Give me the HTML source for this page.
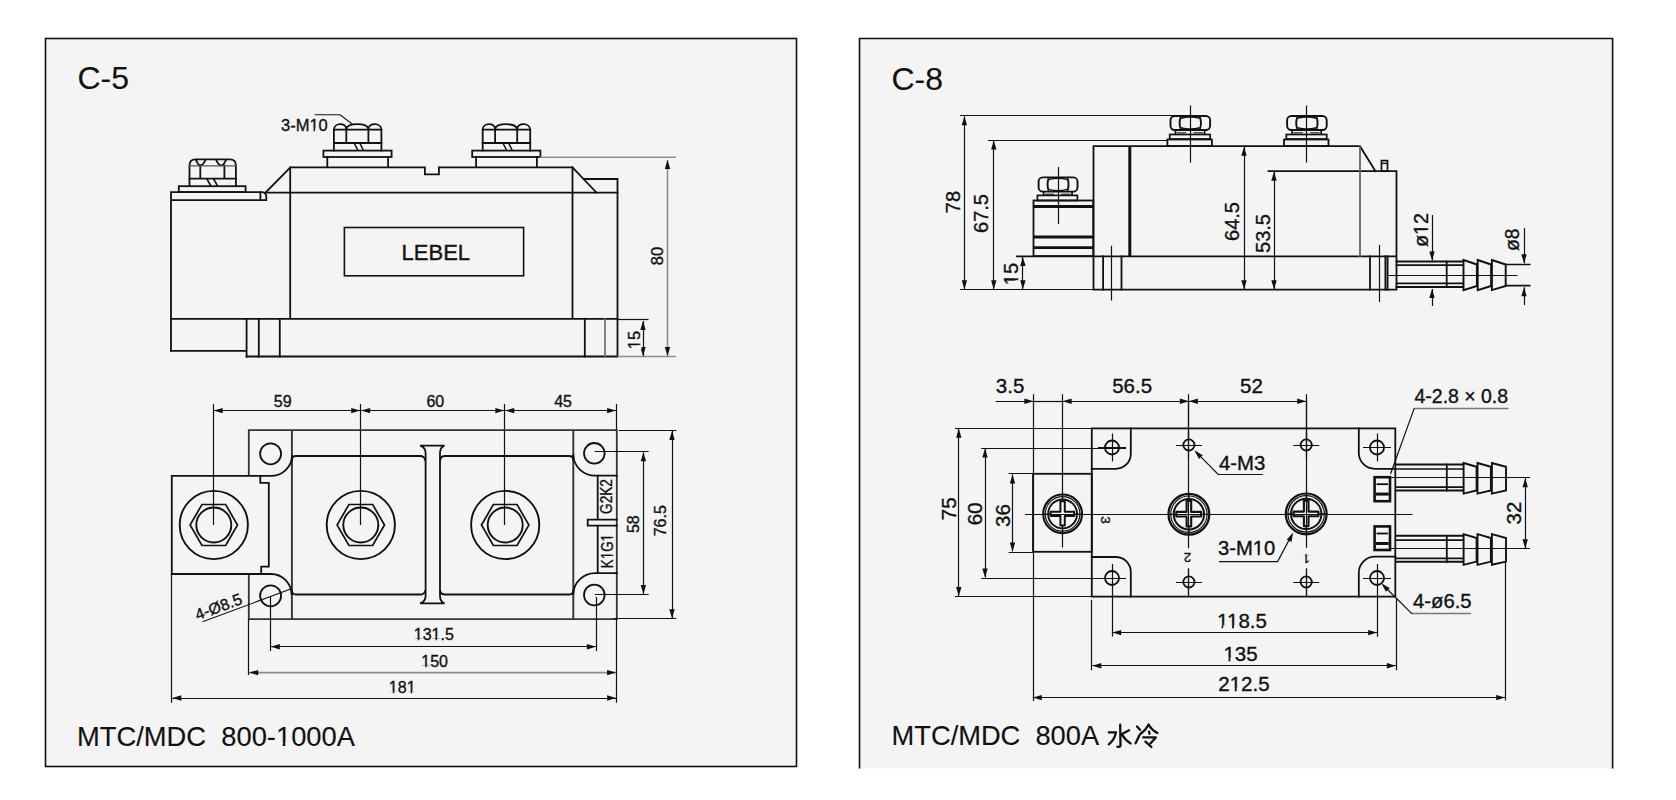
<!DOCTYPE html>
<html><head><meta charset="utf-8"><title>C-5 / C-8</title>
<style>
html,body{margin:0;padding:0;background:#fff;width:1676px;height:800px;overflow:hidden}
svg{display:block}
text{font-family:"Liberation Sans",sans-serif;fill:#111;stroke:#111;stroke-width:0.35}
.k{stroke:#111;stroke-width:1.8;fill:none;stroke-linecap:square}
.t{stroke:#111;stroke-width:1.2;fill:none}
.g{stroke:#8c8c8c;stroke-width:1.6;fill:none}
.b{stroke:#333;stroke-width:1.8;fill:none}
</style></head>
<body>
<svg width="1676" height="800" viewBox="0 0 1676 800">
<rect x="45.5" y="38.5" width="751" height="728" fill="#f4f4f4" stroke="#111" stroke-width="1.6"/>
<rect x="860" y="39" width="752.5" height="729.5" fill="#f4f4f4"/>
<path d="M859.5,768.5 V38.5 H1612.6 V768.5" fill="none" stroke="#111" stroke-width="1.6"/>
<text style="stroke-width:0.12" x="77.5" y="89.4" font-size="32">C-5</text>
<text style="stroke-width:0.12" x="891.5" y="89.7" font-size="32">C-8</text>
<text style="stroke-width:0.12" x="77" y="745.5" font-size="27.5" textLength="278" lengthAdjust="spacingAndGlyphs" xml:space="preserve">MTC/MDC  800-1000A</text>
<text style="stroke-width:0.12" x="891.6" y="744.5" font-size="27.5" textLength="207.5" lengthAdjust="spacingAndGlyphs" xml:space="preserve">MTC/MDC  800A</text>

<g class="k">
 <path d="M189.5,186 V165.4 Q189.5,159.4 195.5,159.4 H229.9 Q235.9,159.4 235.9,165.4 V186"/>
 <path d="M196.2,160.3 Q200.3,170.5 205.2,160.3 M216.4,160.3 Q221,170.5 225.8,160.3" stroke-width="1.8"/>
 <path d="M200.3,165.5 V178.6 M224.4,165.5 V178.6 M189.5,178.6 H235.9" stroke-width="1.8"/>
 <path d="M206.9,179 L210.9,186 M213.7,179 L217.5,186" stroke-width="1.6"/>
 <path d="M189.5,165.9 H235.9" stroke-width="1.3" stroke="#555"/>
 <rect x="178.8" y="186.2" width="66.8" height="5.9"/>
 <path d="M171,350.9 V192.2 H262 Q266.3,192.6 266.3,197 V200.1 H171"/>
 <path d="M260.4,192.4 V200"/>
 <path d="M171,350.9 H246.6 M246.6,318.8 V356.5"/>
 <path d="M258.8,318.8 V356.5 M279.8,318.8 V356.5"/>
 <path d="M265.2,193 L290.4,167.3 H424.9 V174.3 H438.9 V167.3 H572.5 L596.5,192.6"/>
 <path d="M266.3,192.7 H617.5"/>
 <path d="M584.5,179 H617.5 V356.5 H246.6"/>
 <path d="M290.2,167.3 V318.8 M572.5,167.3 V318.8 M171,318.8 H617.5"/>
 <path d="M584.8,318.8 V356.5"/>
 <path d="M605,318.8 V356.5" stroke="#666" stroke-width="1.6"/>
 <rect x="344.4" y="227.5" width="179.2" height="48.3" stroke-width="1.6"/>
 <g id="nutA">
  <path d="M333.9,150.6 V129.7 C333.9,122.5 346.3,122.5 346.3,129 C347.9,122.6 366.8,122.6 368.4,129 C368.4,122.5 381.4,122.5 381.4,129.7 V150.6"/>
  <path d="M333.9,129.7 H381.4 M346.3,129 V143 M368.4,129 V143 M333.9,143 H381.4" stroke-width="1.8"/>
  <path d="M354.4,143.6 L358.0,150.5 M360.2,143.8 L363.5,150.5" stroke-width="1.5" style="stroke-linecap:butt"/>
  <rect x="323.4" y="150.6" width="68.2" height="6.4"/>
  <path d="M327.3,157 V167.2 M388.1,157 V167.2"/>
 </g>
 <use href="#nutA" x="148.8"/>
</g>
<path d="M314.6,114.8 H340 L352.2,124" class="t" style="stroke-width:1.1"/>
<text x="281" y="130.6" font-size="16.5">3-M10</text>
<text x="435.8" y="259.5" font-size="22" text-anchor="middle">LEBEL</text>
<path d="M540,157.2 H676 M617.5,356.5 H676" class="g"/>
<path d="M617.5,319.5 H648.5" class="t"/>

<path d="M667.5,160 V356" class="g"/><path d="M667.50,160.00 L670.20,169.00 L664.80,169.00 Z" fill="#111"/><path d="M667.50,356.00 L664.80,347.00 L670.20,347.00 Z" fill="#111"/>
<path d="M643.5,321 V356" class="t"/><path d="M643.00,321.00 L645.70,330.00 L640.30,330.00 Z" fill="#111"/><path d="M643.00,356.00 L640.30,347.00 L645.70,347.00 Z" fill="#111"/>
<text transform="translate(663.11,256.00) rotate(-90)" font-size="16.5" text-anchor="middle">80</text>
<text transform="translate(639.91,340.00) rotate(-90)" font-size="16.5" text-anchor="middle">15</text>
<path d="M213.5,404 V525 M360.5,404 V525 M504.5,404 V525 M616.5,404 V430" class="t"/>
<path d="M213.6,410.5 H360.2" class="t"/><path d="M213.60,410.60 L222.60,407.90 L222.60,413.30 Z" fill="#111"/><path d="M360.20,410.60 L351.20,413.30 L351.20,407.90 Z" fill="#111"/>
<path d="M361.2,410.5 H504.3" class="t"/><path d="M361.20,410.60 L370.20,407.90 L370.20,413.30 Z" fill="#111"/><path d="M504.30,410.60 L495.30,413.30 L495.30,407.90 Z" fill="#111"/>
<path d="M505.3,410.5 H616.1" class="t"/><path d="M505.30,410.60 L514.30,407.90 L514.30,413.30 Z" fill="#111"/><path d="M616.10,410.60 L607.10,413.30 L607.10,407.90 Z" fill="#111"/>
<text x="282.7" y="407.3" font-size="16" text-anchor="middle">59</text>
<text x="435.3" y="407.1" font-size="16" text-anchor="middle">60</text>
<text x="563.1" y="407.1" font-size="16" text-anchor="middle">45</text>
<path d="M248.8,475.8 V430.2 H616.8 V619.1 H248.8 V574" class="b"/>
<path d="M291.9,430.2 V619.1 M573.3,430.2 V619.1" class="b" style="stroke-width:1.9"/>
<path d="M291.9,460 Q291.9,456 296,456 H420 Q424.2,456 425.2,460 M425.2,591 Q424.2,594.5 420,594.5 H296 Q291.9,594.5 291.9,590.5" class="k"/>
<path d="M573.3,460 Q573.3,456 569,456 H445 Q440.8,456 440.2,460 M440.2,591 Q440.8,594.5 445,594.5 H569 Q573.3,594.5 573.3,590.5" class="k"/>
<path d="M420.1,445.6 H444.5 Q440,447.5 440,453 V596 Q440,601.5 444.5,603.4 H420.1 Q425.6,601.5 425.6,596 V453 Q425.6,447.5 420.1,445.6 Z" class="k"/>
<path d="M171.8,475.8 H272 A20.5,20.5 0 0 0 292,456" class="k"/>
<path d="M171.8,574 H271 A20.5,20.5 0 0 1 291.6,594" class="k"/>
<path d="M573.3,455 A22,21 0 0 0 596,475.6 H616.8" class="k"/>
<path d="M616.8,573.2 H596 A22,21 0 0 0 573.3,594" class="k"/>
<g class="k" style="stroke-width:1.8">
 <circle cx="270.6" cy="453.8" r="10.5"/>
 <circle cx="270.6" cy="595.8" r="10.5"/>
 <circle cx="594.3" cy="453.3" r="10.3"/>
 <circle cx="594.3" cy="595" r="10.3"/>
</g>
<path d="M171.8,475.8 V574 M260.3,475.8 V482.8 H268.8 V566.7 H261.2 V574" class="k"/>
<g id="termA" class="k" style="stroke-width:1.9">
 <circle cx="213.8" cy="525" r="34.1"/>
 <path d="M190.1,525 L201.95,504.5 H225.65 L237.5,525 L225.65,545.5 H201.95 Z" stroke-width="1.7"/>
 <circle cx="213.8" cy="525" r="17.5" stroke-width="1.9"/>
</g>
<use href="#termA" x="147"/>
<use href="#termA" x="291.4"/>
<path d="M597.7,475.6 V519.7 H587.7 V525.7 H597.7 V573.2 M587.7,519.7 H616.8 M587.7,525.7 H616.8" class="k"/>

<text transform="translate(612.04,496.50) rotate(-90)" font-size="16.3" text-anchor="middle" textLength="34.8" lengthAdjust="spacingAndGlyphs">G2K2</text>
<text transform="translate(613.24,551.10) rotate(-90)" font-size="16.3" text-anchor="middle" textLength="34.2" lengthAdjust="spacingAndGlyphs">K1G1</text>
<path d="M594.7,451.5 H648.7 M594.7,594.5 H648.7 M618.7,430.5 H676.4 M613.5,618.5 H676.4" class="t"/>
<path d="M643.5,452.3 V594" class="t"/><path d="M643.40,452.30 L646.10,461.30 L640.70,461.30 Z" fill="#111"/><path d="M643.40,594.00 L640.70,585.00 L646.10,585.00 Z" fill="#111"/>
<path d="M672.5,431 V618.2" class="t"/><path d="M672.00,431.00 L674.70,440.00 L669.30,440.00 Z" fill="#111"/><path d="M672.00,618.20 L669.30,609.20 L674.70,609.20 Z" fill="#111"/>
<text transform="translate(638.73,524.20) rotate(-90)" font-size="16" text-anchor="middle">58</text>
<text transform="translate(665.73,520.80) rotate(-90)" font-size="16" text-anchor="middle">76.5</text>
<path d="M270.5,596 V651 M596.5,597 V651 M248.5,619 V675.1 M171.5,574 V702.7 M616.5,619 V702.7" class="t"/>
<path d="M270.8,646.5 H595.9" class="t"/><path d="M270.80,646.70 L279.80,644.00 L279.80,649.40 Z" fill="#111"/><path d="M595.90,646.70 L586.90,649.40 L586.90,644.00 Z" fill="#111"/>
<path d="M172.3,698.5 H616.1" class="t"/><path d="M172.30,698.00 L181.30,695.30 L181.30,700.70 Z" fill="#111"/><path d="M616.10,698.00 L607.10,700.70 L607.10,695.30 Z" fill="#111"/>
<path d="M249.2,672.6 H616.1" class="g"/><path d="M249.20,672.60 L258.20,669.90 L258.20,675.30 Z" fill="#111"/><path d="M616.10,672.60 L607.10,675.30 L607.10,669.90 Z" fill="#111"/>
<text x="433.8" y="640" font-size="16" text-anchor="middle">131.5</text>
<text x="434.6" y="667" font-size="16" text-anchor="middle">150</text>
<text x="402.2" y="692.7" font-size="16" text-anchor="middle">181</text>
<path d="M202.5,621.8 L290.7,589.1" class="t" style="stroke-width:1.1"/>
<text transform="translate(197.4,620.4) rotate(-20.3)" font-size="16">4-Ø8.5</text>
<path d="M960,115.5 H1175 M988,140.5 H1167.5 M960,289.5 H1093.5" class="t"/>
<path d="M964.5,116.3 V289.2" class="t"/><path d="M964.40,116.30 L967.10,125.30 L961.70,125.30 Z" fill="#111"/><path d="M964.40,289.20 L961.70,280.20 L967.10,280.20 Z" fill="#111"/>
<path d="M993.5,140.6 V289.2" class="t"/><path d="M993.80,140.60 L996.50,149.60 L991.10,149.60 Z" fill="#111"/><path d="M993.80,289.20 L991.10,280.20 L996.50,280.20 Z" fill="#111"/>
<path d="M1022.5,257 V289.2" class="t"/><path d="M1022.90,257.00 L1025.60,266.00 L1020.20,266.00 Z" fill="#111"/><path d="M1022.90,289.20 L1020.20,280.20 L1025.60,280.20 Z" fill="#111"/>
<text transform="translate(959.86,202.00) rotate(-90)" font-size="20" text-anchor="middle">78</text>
<text transform="translate(988.36,213.50) rotate(-90)" font-size="20" text-anchor="middle">67.5</text>
<text transform="translate(1017.56,274.00) rotate(-90)" font-size="20" text-anchor="middle">15</text>
<g class="k" style="stroke-width:1.9;stroke-linecap:butt"><rect x="1038.6" y="177.4" width="38.9" height="14.2" rx="4.2"/><path d="M1048.71,178.2 Q1046.31,184.5 1048.71,190.8 M1067.39,178.2 Q1069.79,184.5 1067.39,190.8"/><path d="M1048.71,179.6 Q1058.05,177.0 1067.39,179.6 M1048.71,189.4 Q1058.05,192.0 1067.39,189.4" stroke-width="1.5"/><path d="M1043.6,191.6 V195.8 M1072.0,191.6 V195.8" stroke-width="1.7"/><path d="M1044.9,194.3 H1054.05 M1061.35,194.3 H1070.5" stroke-width="1.4" stroke="#555"/></g>
<rect x="1037.4" y="195.4" width="40" height="5.1" class="k" style="stroke-width:1.7"/>
<g class="k">
 <rect x="1033.5" y="200.5" width="59.8" height="55.6"/>
 <path d="M1033.5,206.5 H1093.3 M1033.5,237 H1093.3 M1033.5,247.6 H1093.3" stroke-width="2.8" style="stroke-linecap:butt"/>
 <path d="M1093.5,146.2 V289.6 M1093.5,146.2 H1360 L1375.5,171.2 M1268.5,171.2 H1396.5 V289.6 M1017,256.4 H1396.5 M1093.5,289.6 H1396.5"/>
 <path d="M1129.8,146.2 V256.4" stroke-width="3" style="stroke-linecap:butt"/>
 <path d="M1360,146.2 V256.4" stroke="#666" stroke-width="1.8"/>
 <path d="M1103.1,256.4 V289.6 M1121.5,256.4 V289.6 M1370,256.4 V289.6 M1385.4,256.4 V289.6 M1387.6,256.4 V289.6"/>
 <rect x="1381.5" y="160.6" width="6" height="10.6" stroke-width="1.7"/>
 <path d="M1381.5,163.4 H1387.5" stroke-width="1.4"/>
</g>
<path d="M1058.5,167 V224 M1111.5,245.7 V300.5 M1379.5,245 V302 M1190.5,105.5 V162.5 M1306.5,105.5 V162.5" class="t"/>
<g class="k" style="stroke-width:1.9;stroke-linecap:butt"><rect x="1170.5" y="116" width="39.6" height="14" rx="4.2"/><path d="M1180.8,116.8 Q1178.4,123.0 1180.8,129.2 M1199.8,116.8 Q1202.2,123.0 1199.8,129.2"/><path d="M1180.8,118.2 Q1190.3,115.6 1199.8,118.2 M1180.8,127.8 Q1190.3,130.4 1199.8,127.8" stroke-width="1.5"/><path d="M1175.5,130 V134.2 M1204.6,130 V134.2" stroke-width="1.7"/><path d="M1176.8,132.7 H1186.3 M1193.6,132.7 H1203.1" stroke-width="1.4" stroke="#555"/></g>
<rect x="1169.7" y="134.5" width="40.4" height="4.5" class="k" style="stroke-width:1.7"/>
<rect x="1167.4" y="139.5" width="44.5" height="6.6" class="k" style="stroke-width:1.8"/>
<g class="k" style="stroke-width:1.9;stroke-linecap:butt"><rect x="1287.1" y="116" width="39.6" height="14" rx="4.2"/><path d="M1297.4,116.8 Q1295,123.0 1297.4,129.2 M1316.4,116.8 Q1318.8,123.0 1316.4,129.2"/><path d="M1297.4,118.2 Q1306.9,115.6 1316.4,118.2 M1297.4,127.8 Q1306.9,130.4 1316.4,127.8" stroke-width="1.5"/><path d="M1292.1,130 V134.2 M1321.2,130 V134.2" stroke-width="1.7"/><path d="M1293.4,132.7 H1302.9 M1310.2,132.7 H1319.7" stroke-width="1.4" stroke="#555"/></g>
<rect x="1286.3" y="134.5" width="40.4" height="4.5" class="k" style="stroke-width:1.7"/>
<rect x="1284.0" y="139.5" width="44.5" height="6.6" class="k" style="stroke-width:1.8"/>
<path d="M1244.5,146.8 V289.2" class="t"/><path d="M1244.00,146.80 L1246.70,155.80 L1241.30,155.80 Z" fill="#111"/><path d="M1244.00,289.20 L1241.30,280.20 L1246.70,280.20 Z" fill="#111"/>
<path d="M1274.5,171.8 V289.2" class="t"/><path d="M1274.00,171.80 L1276.70,180.80 L1271.30,180.80 Z" fill="#111"/><path d="M1274.00,289.20 L1271.30,280.20 L1276.70,280.20 Z" fill="#111"/>
<text transform="translate(1238.66,221.50) rotate(-90)" font-size="20" text-anchor="middle">64.5</text>
<text transform="translate(1269.66,233.50) rotate(-90)" font-size="20" text-anchor="middle">53.5</text>
<g class="k">
 <path d="M1396.5,261.5 H1462.8 M1396.5,287 H1462.8" stroke-width="2"/>
 <path d="M1396.5,265.2 H1462.8 M1396.5,283.3 H1462.8" stroke-width="1.7"/>
 <path d="M1446.7,261.5 V287" stroke-width="1.8"/>
 <path d="M1463.5,260 L1476.9,264.5 V286 L1463.5,290.1 Z M1477.7,260 L1491.1,264.5 V286 L1477.7,290.1 Z M1491.9,260 L1505.7,264.5 V286 L1491.9,290.1 Z" stroke-width="1.9"/>
 <path d="M1505.7,264.5 H1529.7 M1505.7,285.6 H1529.7" stroke-width="1.6"/>
</g>
<path d="M1388.7,275.5 H1517.5" class="t"/>
<path d="M1432.5,214.9 V260.4 M1432.5,288.9 V306 M1524.5,228 V263.3 M1524.5,287.2 V305" class="t"/>
<path d="M1432.00,260.40 L1429.30,251.40 L1434.70,251.40 Z" fill="#111"/>
<path d="M1432.00,288.90 L1434.70,297.90 L1429.30,297.90 Z" fill="#111"/>
<path d="M1524.00,263.30 L1521.30,254.30 L1526.70,254.30 Z" fill="#111"/>
<path d="M1524.00,287.20 L1526.70,296.20 L1521.30,296.20 Z" fill="#111"/>
<text transform="translate(1427.96,230.00) rotate(-90)" font-size="20" text-anchor="middle" textLength="34" lengthAdjust="spacingAndGlyphs">ø12</text>
<text transform="translate(1518.56,239.70) rotate(-90)" font-size="20" text-anchor="middle" textLength="22.5" lengthAdjust="spacingAndGlyphs">ø8</text>
<path d="M1033.5,394.3 V701 M1062.5,394.3 V547.5 M1188.5,394.3 V440 M1306.5,394.3 V440" class="t"/>
<path d="M995.7,401.5 H1033.4" class="t"/><path d="M1033.40,401.30 L1024.40,404.00 L1024.40,398.60 Z" fill="#111"/>
<path d="M1033.4,401.5 H1062.6" class="t"/>
<path d="M1062.6,401.5 H1188.9" class="t"/><path d="M1062.60,401.30 L1071.60,398.60 L1071.60,404.00 Z" fill="#111"/><path d="M1188.90,401.30 L1179.90,404.00 L1179.90,398.60 Z" fill="#111"/>
<path d="M1188.9,401.5 H1306.2" class="t"/><path d="M1188.90,401.30 L1197.90,398.60 L1197.90,404.00 Z" fill="#111"/><path d="M1306.20,401.30 L1297.20,404.00 L1297.20,398.60 Z" fill="#111"/>
<text x="1010.1" y="392.9" font-size="20.5" text-anchor="middle">3.5</text>
<text x="1132.1" y="392.9" font-size="20.5" text-anchor="middle">56.5</text>
<text x="1251.5" y="393.3" font-size="20.5" text-anchor="middle">52</text>
<path d="M955,428.5 H1092 M955,596.5 H1092 M981.2,448.5 H1126 M981.2,578.5 H1126 M1008.7,473.5 H1033 M1008.7,552.5 H1033" class="t"/>
<path d="M958.5,428.8 V596" class="t"/><path d="M958.80,428.80 L961.50,437.80 L956.10,437.80 Z" fill="#111"/><path d="M958.80,596.00 L956.10,587.00 L961.50,587.00 Z" fill="#111"/>
<path d="M985.5,448.6 V577.4" class="t"/><path d="M985.00,448.60 L987.70,457.60 L982.30,457.60 Z" fill="#111"/><path d="M985.00,577.40 L982.30,568.40 L987.70,568.40 Z" fill="#111"/>
<path d="M1012.5,474.4 V551.4" class="t"/><path d="M1012.50,474.40 L1015.20,483.40 L1009.80,483.40 Z" fill="#111"/><path d="M1012.50,551.40 L1009.80,542.40 L1015.20,542.40 Z" fill="#111"/>
<text transform="translate(955.94,508.80) rotate(-90)" font-size="20.5" text-anchor="middle">75</text>
<text transform="translate(981.64,513.80) rotate(-90)" font-size="20.5" text-anchor="middle">60</text>
<text transform="translate(1009.74,515.60) rotate(-90)" font-size="20.5" text-anchor="middle">36</text>
<g class="k">
 <rect x="1033" y="473.8" width="58.8" height="78"/>
 <rect x="1091.8" y="428.4" width="303.5" height="168.2"/>
 <path d="M1130.8,428.4 V454 A15,14.8 0 0 1 1115.8,468.8 H1091.8"/>
 <path d="M1091.8,557 H1115.8 A15,15 0 0 1 1130.8,572 V596.6"/>
 <path d="M1358.8,428.4 V453 A16.2,15.8 0 0 0 1375,468.8 H1395.3"/>
 <path d="M1395.3,556.6 H1375 A16.2,16 0 0 0 1358.8,572.6 V596.6"/>
</g>
<circle cx="1112" cy="447.5" r="7" class="k" style="stroke-width:1.8"/><path d="M1098,447.5 H1126 M1112.5,433.5 V461.5" class="t"/>
<circle cx="1112" cy="578" r="7" class="k" style="stroke-width:1.8"/><path d="M1098,578.5 H1126 M1112.5,564 V636.5" class="t"/>
<circle cx="1377" cy="447.5" r="7" class="k" style="stroke-width:1.8"/><path d="M1363,447.5 H1391 M1377.5,433.5 V461.5" class="t"/>
<circle cx="1377" cy="578" r="7" class="k" style="stroke-width:1.8"/><path d="M1363,578.5 H1391 M1377.5,564 V636.8" class="t"/>
<circle cx="1188.9" cy="445" r="5.6" class="k" style="stroke-width:1.8"/><path d="M1175.9,445.5 H1201.9 M1188.5,432 V458" class="t"/>
<circle cx="1188.9" cy="582" r="5.6" class="k" style="stroke-width:1.8"/><path d="M1175.9,582.5 H1201.9 M1188.5,569 V595" class="t"/>
<circle cx="1306.2" cy="445" r="5.6" class="k" style="stroke-width:1.8"/><path d="M1293.2,445.5 H1319.2 M1306.5,432 V458" class="t"/>
<circle cx="1306.2" cy="582" r="5.6" class="k" style="stroke-width:1.8"/><path d="M1293.2,582.5 H1319.2 M1306.5,569 V595" class="t"/>
<g class="k" transform="translate(1062.6,513.9) scale(0.95) translate(-1062.6,-513.9)"><circle cx="1062.6" cy="513.9" r="20.4" stroke-width="2.2"/><circle cx="1062.6" cy="513.9" r="18.2" stroke-width="1.2"/><circle cx="1062.6" cy="513.9" r="15.2" stroke-width="2"/><path d="M1062.6,493.5 V534.3 M1042.2,513.9 H1083.0" stroke-width="1.1"/><path d="M1050.0,511.6 H1060.3 V500.7 H1064.9 V511.6 H1074.8 V516.2 H1064.9 V526.1 H1060.3 V516.2 H1050.0 Z" stroke-width="2.1" stroke-linejoin="round" fill="#f8f8f8"/></g>
<g class="k" transform="translate(1188.9,514.2) scale(1.0) translate(-1188.9,-514.2)"><circle cx="1188.9" cy="514.2" r="20.4" stroke-width="2.2"/><circle cx="1188.9" cy="514.2" r="18.2" stroke-width="1.2"/><circle cx="1188.9" cy="514.2" r="15.2" stroke-width="2"/><path d="M1188.9,493.8 V534.6 M1168.5,514.2 H1209.3" stroke-width="1.1"/><path d="M1176.3,511.9 H1186.6 V501 H1191.2 V511.9 H1201.1 V516.5 H1191.2 V526.4 H1186.6 V516.5 H1176.3 Z" stroke-width="2.1" stroke-linejoin="round" fill="#f8f8f8"/></g>
<g class="k" transform="translate(1306.2,513.9) scale(1.0) translate(-1306.2,-513.9)"><circle cx="1306.2" cy="513.9" r="20.4" stroke-width="2.2"/><circle cx="1306.2" cy="513.9" r="18.2" stroke-width="1.2"/><circle cx="1306.2" cy="513.9" r="15.2" stroke-width="2"/><path d="M1306.2,493.5 V534.3 M1285.8,513.9 H1326.6" stroke-width="1.1"/><path d="M1293.6,511.6 H1303.9 V500.7 H1308.5 V511.6 H1318.4 V516.2 H1308.5 V526.1 H1303.9 V516.2 H1293.6 Z" stroke-width="2.1" stroke-linejoin="round" fill="#f8f8f8"/></g>
<path d="M1025,514.5 H1412.5 M1188.5,400 V548.2 M1306.5,400 V547.8 M1188.5,568.2 V596 M1306.5,568.2 V596" class="t"/>
<text transform="translate(1100.77,519.90) rotate(90)" font-size="13.5" text-anchor="middle">3</text>
<text transform="translate(1187.40,553.27) rotate(180)" font-size="13.5" text-anchor="middle">2</text>
<text transform="translate(1306.30,553.73) rotate(180)" font-size="12.5" text-anchor="middle">1</text>
<g class="k">
 <rect x="1374.6" y="477.2" width="15.4" height="24" stroke-width="2.6"/>
 <path d="M1377.4,484.2 H1387.2" stroke-width="1.8"/><path d="M1377.4,494.1 H1387.2" stroke-width="3"/>
 <rect x="1374.6" y="526.4" width="15.4" height="23.6" stroke-width="2.6"/>
 <path d="M1377.4,533.5 H1387.2" stroke-width="1.8"/><path d="M1377.4,543.5 H1387.2" stroke-width="3"/>
</g>
<g class="k"><path d="M1396.5,464.6 H1463 M1396.5,490.6 H1463" stroke-width="2"/><path d="M1396.5,469.0 H1463 M1396.5,487.2 H1463" stroke-width="1.7"/><path d="M1446.8,464.6 V490.6" stroke-width="1.8"/><path d="M1463.6,463.0 L1476.6,466.8 V490.4 L1463.6,493.6 Z M1477.5,463.0 L1490.9,466.8 V490.4 L1477.5,493.6 Z M1491.9,463.0 L1506,466.8 V490.4 L1491.9,493.6 Z " stroke-width="1.9"/></g>
<path d="M1390.5,477.5 H1530" class="t"/>
<g class="k"><path d="M1396.5,535.8 H1463 M1396.5,561.8 H1463" stroke-width="2"/><path d="M1396.5,540.2 H1463 M1396.5,558.4 H1463" stroke-width="1.7"/><path d="M1446.8,535.8 V561.8" stroke-width="1.8"/><path d="M1463.6,534.2 L1476.6,538.0 V561.6 L1463.6,564.8 Z M1477.5,534.2 L1490.9,538.0 V561.6 L1477.5,564.8 Z M1491.9,534.2 L1506,538.0 V561.6 L1491.9,564.8 Z " stroke-width="1.9"/></g>
<path d="M1390.5,548.5 H1530" class="t"/>
<path d="M1525.5,478.2 V548.3" class="t"/><path d="M1525.20,478.20 L1527.90,487.20 L1522.50,487.20 Z" fill="#111"/><path d="M1525.20,548.30 L1522.50,539.30 L1527.90,539.30 Z" fill="#111"/>
<text transform="translate(1520.94,513.10) rotate(-90)" font-size="20.5" text-anchor="middle">32</text>
<path d="M1091.5,599.7 V670.2 M1396.5,598 V670.2 M1505.5,562 V700.4" class="t"/>
<path d="M1112.2,632.5 H1377.2" class="t"/><path d="M1112.20,632.60 L1121.20,629.90 L1121.20,635.30 Z" fill="#111"/><path d="M1377.20,632.60 L1368.20,635.30 L1368.20,629.90 Z" fill="#111"/>
<path d="M1092.3,665.5 H1395.8" class="t"/><path d="M1092.30,665.80 L1101.30,663.10 L1101.30,668.50 Z" fill="#111"/><path d="M1395.80,665.80 L1386.80,668.50 L1386.80,663.10 Z" fill="#111"/>
<path d="M1032.8,697.5 H1505.2" class="t"/><path d="M1032.80,697.60 L1041.80,694.90 L1041.80,700.30 Z" fill="#111"/><path d="M1505.20,697.60 L1496.20,700.30 L1496.20,694.90 Z" fill="#111"/>
<text x="1242" y="628.2" font-size="20.5" text-anchor="middle">118.5</text>
<text x="1240.5" y="660.6" font-size="20.5" text-anchor="middle">135</text>
<text x="1243.9" y="691.2" font-size="20.5" text-anchor="middle">212.5</text>
<text x="1219" y="470.1" font-size="19.5" text-anchor="start" textLength="46.3" lengthAdjust="spacingAndGlyphs">4-M3</text>
<path d="M1262.9,474.5 H1218.2 L1195.6,451.6" class="t"/>
<path d="M1194.60,450.60 L1202.83,455.14 L1198.97,458.92 Z" fill="#111"/>
<text x="1218" y="555.4" font-size="19.5" text-anchor="start" textLength="57.2" lengthAdjust="spacingAndGlyphs">3-M10</text>
<path d="M1219,561.6 H1277.6 L1292,534.5" class="t"/>
<path d="M1293.00,532.70 L1291.54,541.98 L1286.67,539.65 Z" fill="#111"/>
<text x="1414.5" y="402.5" font-size="19.5" text-anchor="start" textLength="93.6" lengthAdjust="spacingAndGlyphs">4-2.8 × 0.8</text>
<path d="M1508.6,408.5 H1414.3" class="t" style="stroke:#777;stroke-width:1.5"/><path d="M1414.3,408.1 L1390.5,474" class="t"/>
<text x="1413" y="608" font-size="20.5" text-anchor="start" textLength="58.6" lengthAdjust="spacingAndGlyphs">4-ø6.5</text>
<path d="M1471,613.5 H1412" class="t" style="stroke:#777;stroke-width:1.5"/><path d="M1412,613.9 L1383,585" class="t"/>
<path d="M1381.50,583.50 L1389.77,587.95 L1385.95,591.77 Z" fill="#111"/>
<g fill="none" stroke="#111" stroke-width="2.3" stroke-linecap="round" stroke-linejoin="round">
 <path d="M1120.2,724.6 L1120.5,745.6 Q1120.5,747.3 1117.4,746.6"/>
 <path d="M1108.8,732.4 H1116 Q1114.2,740 1108.8,744.3"/>
 <path d="M1121.2,734.6 L1129,730.2"/>
 <path d="M1121.6,734.2 Q1125.2,740.2 1130.6,743.4"/>
 <path d="M1137,726.4 L1140,729.8"/>
 <path d="M1135.6,743.2 L1139.6,735"/>
 <path d="M1148.6,724.8 Q1145.6,730.4 1140.6,733.8"/>
 <path d="M1148.6,724.8 Q1152,730.2 1157.4,733"/>
 <path d="M1149,731.6 L1149.5,733.8"/>
 <path d="M1143.2,737.4 H1155.8 L1150.4,743.4"/>
 <path d="M1145.4,741.6 L1151.4,747"/>
</g>

<!--feet--><rect x="275.80" y="742.45" width="6.95" height="4.54" fill="#f4f4f4"/><rect x="285.27" y="742.45" width="6.41" height="4.54" fill="#f4f4f4"/><rect x="309.32" y="128.53" width="4.20" height="3.60" fill="#f4f4f4"/><rect x="315.04" y="128.53" width="3.87" height="3.60" fill="#f4f4f4"/><rect x="-9.26" y="-2.07" width="4.20" height="3.60" fill="#f4f4f4" transform="translate(639.91,340.00) rotate(-90)"/><rect x="-3.54" y="-2.07" width="3.87" height="3.60" fill="#f4f4f4" transform="translate(639.91,340.00) rotate(-90)"/><rect x="-8.25" y="-2.23" width="3.40" height="3.59" fill="#f4f4f4" transform="translate(613.24,551.10) rotate(-90)"/><rect x="-3.62" y="-2.23" width="3.13" height="3.59" fill="#f4f4f4" transform="translate(613.24,551.10) rotate(-90)"/><rect x="9.59" y="-2.23" width="3.40" height="3.59" fill="#f4f4f4" transform="translate(613.24,551.10) rotate(-90)"/><rect x="14.22" y="-2.23" width="3.13" height="3.59" fill="#f4f4f4" transform="translate(613.24,551.10) rotate(-90)"/><rect x="413.70" y="638.52" width="4.07" height="3.56" fill="#f4f4f4"/><rect x="419.24" y="638.52" width="3.75" height="3.56" fill="#f4f4f4"/><rect x="431.49" y="638.52" width="4.07" height="3.56" fill="#f4f4f4"/><rect x="437.04" y="638.52" width="3.75" height="3.56" fill="#f4f4f4"/><rect x="421.17" y="665.52" width="4.07" height="3.56" fill="#f4f4f4"/><rect x="426.71" y="665.52" width="3.75" height="3.56" fill="#f4f4f4"/><rect x="388.77" y="691.22" width="4.07" height="3.56" fill="#f4f4f4"/><rect x="394.31" y="691.22" width="3.75" height="3.56" fill="#f4f4f4"/><rect x="406.57" y="691.22" width="4.07" height="3.56" fill="#f4f4f4"/><rect x="412.11" y="691.22" width="3.75" height="3.56" fill="#f4f4f4"/><rect x="-11.23" y="-2.20" width="5.08" height="3.90" fill="#f4f4f4" transform="translate(1017.56,274.00) rotate(-90)"/><rect x="-4.30" y="-2.20" width="4.68" height="3.90" fill="#f4f4f4" transform="translate(1017.56,274.00) rotate(-90)"/><rect x="-5.06" y="-2.20" width="5.02" height="3.90" fill="#f4f4f4" transform="translate(1427.96,230.00) rotate(-90)"/><rect x="1.78" y="-2.20" width="4.62" height="3.90" fill="#f4f4f4" transform="translate(1427.96,230.00) rotate(-90)"/><rect x="-3.54" y="-1.35" width="3.18" height="3.26" fill="#f4f4f4" transform="translate(1306.30,553.73) rotate(180)"/><rect x="0.79" y="-1.35" width="2.93" height="3.26" fill="#f4f4f4" transform="translate(1306.30,553.73) rotate(180)"/><rect x="1217.02" y="625.41" width="4.52" height="3.94" fill="#f4f4f4"/><rect x="1223.18" y="625.41" width="4.16" height="3.94" fill="#f4f4f4"/><rect x="1226.88" y="625.41" width="5.21" height="3.94" fill="#f4f4f4"/><rect x="1233.98" y="625.41" width="4.80" height="3.94" fill="#f4f4f4"/><rect x="1223.29" y="657.81" width="5.21" height="3.94" fill="#f4f4f4"/><rect x="1230.39" y="657.81" width="4.80" height="3.94" fill="#f4f4f4"/><rect x="1229.53" y="688.41" width="5.22" height="3.94" fill="#f4f4f4"/><rect x="1236.64" y="688.41" width="4.81" height="3.94" fill="#f4f4f4"/><rect x="1252.64" y="552.79" width="5.13" height="3.86" fill="#f4f4f4"/><rect x="1259.63" y="552.79" width="4.73" height="3.86" fill="#f4f4f4"/><!--/feet-->
</svg>
</body></html>
